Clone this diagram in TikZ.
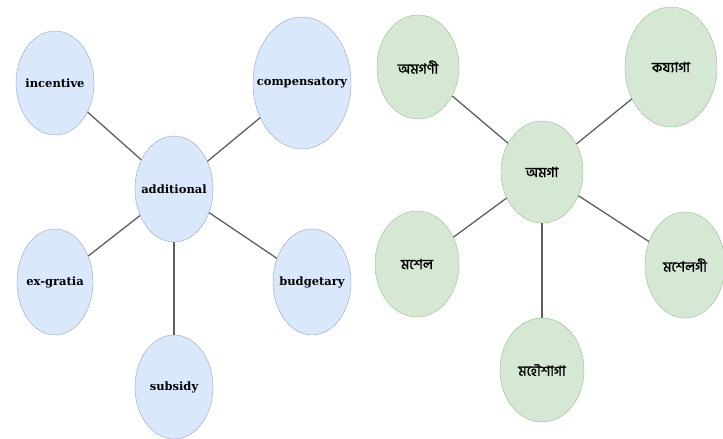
\documentclass[tikz,border=0pt]{standalone}
\usepackage{fontspec}
\setmainfont{DejaVu Serif}
\newfontfamily\bnfont[Script=Bengali,AutoFakeBold=1.6]{Hind Siliguri}
\usepackage{tikz}
\usetikzlibrary{shapes.geometric}
\definecolor{ballblue}{RGB}{218,232,252}
\definecolor{rimblue}{RGB}{150,164,192}
\definecolor{ballgreen}{RGB}{213,232,212}
\definecolor{rimgreen}{RGB}{145,190,140}
\definecolor{linkgray}{RGB}{95,95,95}

\tikzset{
  blueball/.style={draw=rimblue,ellipse,fill=ballblue,inner ysep=0pt,inner xsep=-20pt,font=\bfseries\fontsize{11.5}{13}\selectfont},
  greenball/.style={draw=rimgreen,ellipse,fill=ballgreen,inner ysep=0pt,inner xsep=-20pt,font=\bnfont\bfseries\fontsize{14}{16}\selectfont},
  link/.style={draw=linkgray,line width=1.3pt}
}

\begin{document}
\begin{tikzpicture}[x=1pt,y=-1pt]
\useasboundingbox (0,0) rectangle (723,439);

% English group
\node[blueball,minimum width=78pt,minimum height=106pt] (add) at (174,189) {additional};
\node[blueball,minimum width=78pt,minimum height=104pt] (inc) at (55,83) {incentive};
\node[blueball,minimum width=98pt,minimum height=132pt] (comp) at (302,83) {compensatory};
\node[blueball,minimum width=76pt,minimum height=106pt] (exg) at (55,282) {ex-gratia};
\node[blueball,minimum width=78pt,minimum height=106pt] (bud) at (312,282) {budgetary};
\node[blueball,minimum width=78pt,minimum height=104pt] (sub) at (174,387) {subsidy};

\draw[link] (add) -- (inc);
\draw[link] (add) -- (comp);
\draw[link] (add) -- (exg);
\draw[link] (add) -- (bud);
\draw[link] (add) -- (sub);

% Bengali group
\node[greenball,minimum width=82pt,minimum height=102pt] (amga) at (542,172) {অমগা};
\node[greenball,minimum width=82pt,minimum height=104pt] (amgani) at (418,67) {অমগণী};
\node[greenball,minimum width=92pt,minimum height=120pt] (kajjaga) at (671,67) {কয্যাগা};
\node[greenball,minimum width=84pt,minimum height=106pt] (moshel) at (417,264) {মশেল};
\node[greenball,minimum width=80pt,minimum height=106pt] (moshelgi) at (685,265) {মশেলগী};
\node[greenball,minimum width=84pt,minimum height=104pt] (mohoush) at (542,370) {মহৌশাগা};

\draw[link] (amga) -- (amgani);
\draw[link] (amga) -- (kajjaga);
\draw[link] (amga) -- (moshel);
\draw[link] (amga) -- (moshelgi);
\draw[link] (amga) -- (mohoush);
\end{tikzpicture}
\end{document}
